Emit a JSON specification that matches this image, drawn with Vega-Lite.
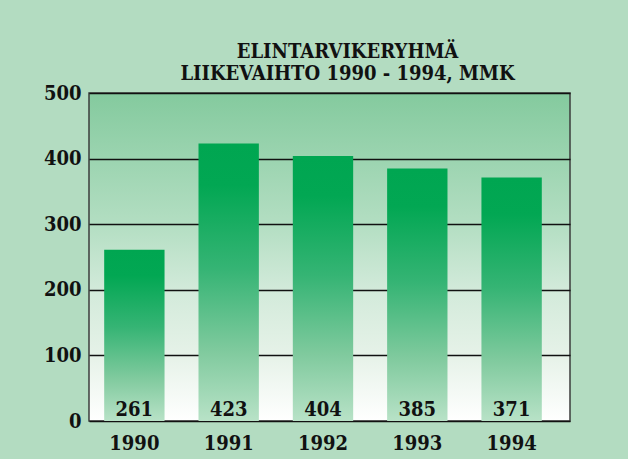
{
  "$schema": "https://vega.github.io/schema/vega-lite/v6.json",
  "width": 481,
  "height": 328,
  "autosize": "none",
  "padding": {"left": 89, "top": 93, "right": 58, "bottom": 38},
  "background": "#b3dcc1",
  "title": {
    "text": ["ELINTARVIKERYHMÄ", "LIIKEVAIHTO 1990 - 1994, MMK"],
    "font": "DejaVu Serif Condensed",
    "fontSize": 20,
    "fontWeight": "bold",
    "color": "#111111",
    "lineHeight": 22,
    "anchor": "middle",
    "dx": 18,
    "offset": -1
  },
  "data": {
    "values": [
      {"year": "1990", "value": 261},
      {"year": "1991", "value": 423},
      {"year": "1992", "value": 404},
      {"year": "1993", "value": 385},
      {"year": "1994", "value": 371}
    ]
  },
  "encoding": {
    "x": {
      "field": "year",
      "type": "nominal",
      "sort": null,
      "scale": {"paddingInner": 0.36, "paddingOuter": 0.23, "align": 0.35},
      "axis": {
        "title": null,
        "labelAngle": 0,
        "domain": false,
        "ticks": false,
        "labelPadding": 12,
        "labelFont": "DejaVu Serif Condensed",
        "labelFontSize": 20,
        "labelFontWeight": "bold",
        "labelColor": "#111111"
      }
    }
  },
  "layer": [
    {
      "mark": {
        "type": "bar",
        "color": {
          "x1": 0, "y1": 0, "x2": 0, "y2": 1,
          "gradient": "linear",
          "stops": [
            {"offset": 0, "color": "#00a651"},
            {"offset": 0.15, "color": "#02a753"},
            {"offset": 0.45, "color": "#35b474"},
            {"offset": 0.75, "color": "#80ca9e"},
            {"offset": 1, "color": "#b8e2c7"}
          ]
        }
      },
      "encoding": {
        "y": {
          "field": "value",
          "type": "quantitative",
          "scale": {"domain": [0, 500], "nice": false},
          "axis": {
            "title": null,
            "values": [0, 100, 200, 300, 400, 500],
            "grid": true,
            "gridColor": "#111111",
            "gridWidth": 1.5,
            "gridOpacity": 1,
            "domain": false,
            "ticks": false,
            "labelPadding": 8,
            "labelFont": "DejaVu Serif Condensed",
            "labelFontSize": 20,
            "labelFontWeight": "bold",
            "labelColor": "#111111"
          }
        }
      }
    },
    {
      "mark": {
        "type": "text",
        "baseline": "alphabetic",
        "dy": -5,
        "font": "DejaVu Serif Condensed",
        "fontSize": 20,
        "fontWeight": "bold",
        "color": "#111111"
      },
      "encoding": {
        "y": {"datum": 0, "type": "quantitative"},
        "text": {"field": "value", "type": "quantitative"}
      }
    }
  ],
  "config": {
    "view": {
      "stroke": "#3d3d3d",
      "strokeWidth": 1.5,
      "fill": {
        "x1": 0, "y1": 0, "x2": 0, "y2": 1,
        "gradient": "linear",
        "stops": [
          {"offset": 0, "color": "#84ca9e"},
          {"offset": 0.4, "color": "#b3dec2"},
          {"offset": 0.6, "color": "#d2eada"},
          {"offset": 0.8, "color": "#e6f2e8"},
          {"offset": 1, "color": "#ffffff"}
        ]
      }
    }
  }
}
